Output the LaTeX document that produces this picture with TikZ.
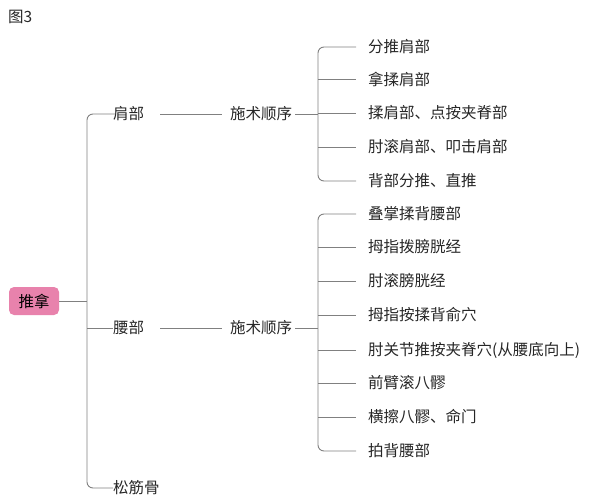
\documentclass[tikz,border=0pt]{standalone}
\usepackage{fontspec}
\setmainfont{Noto Sans CJK SC}
\definecolor{rootpink}{RGB}{232,130,172}
\begin{document}
\begin{tikzpicture}[x=1pt,y=-1pt,
  t/.style={anchor=west,inner sep=0pt,font=\fontsize{15.5}{15.5}\selectfont,text=black!85},
  ln/.style={draw=black!50,line width=0.9pt,rounded corners=6pt}]
\useasboundingbox (0,0) rectangle (600,500);
\node[t] (fig) at (8,17) {图3};
\node[fill=rootpink,rounded corners=5pt,minimum width=50,minimum height=28,inner sep=0pt,font=\fontsize{15.5}{15.5}\selectfont] (root) at (34,301) {推拿};
\node[t] (a) at (113,114) {肩部};
\node[t] (b) at (113,328) {腰部};
\node[t] (c) at (113,488) {松筋骨};
\node[t] (a1) at (230,114) {施术顺序};
\node[t] (b1) at (230,328) {施术顺序};
\draw[ln] (root.east) -- (87,301);
\draw[ln] (a.west) -- ++(-4,0) -| (87,301) |- (c.west);
\draw[ln] (87,328) -- (b.west);
\draw[ln] (160,114) -- (222,114);
\draw[ln] (160,328) -- (222,328);
\foreach \y/\s [count=\i] in {47/分推肩部,79/拿揉肩部,113/揉肩部、点按夹脊部,147/肘滚肩部、叩击肩部,181/背部分推、直推}
  \node[t] (p\i) at (368,\y) {\s};
\foreach \y/\s [count=\i] in {214/叠掌揉背腰部,247/拇指拨膀胱经,281/肘滚膀胱经,315/拇指按揉背俞穴,350/肘关节推按夹脊穴(从腰底向上),383/前臂滚八髎,417/横擦八髎、命门,451/拍背腰部}
  \node[t] (q\i) at (368,\y) {\s};
\draw[ln] (a1.east) ++(3,0) -- (318,114);
\draw[ln] (p1.west) ++(-12,0) -| (318,114) |- ([xshift=-12]p5.west);
\foreach \i in {2,3,4} \draw[ln] (318,0 |- p\i.west) -- ([xshift=-12]p\i.west);
\draw[ln] (b1.east) ++(3,0) -- (318,328);
\draw[ln] (q1.west) ++(-12,0) -| (318,328) |- ([xshift=-12]q8.west);
\foreach \i in {2,...,7} \draw[ln] (318,0 |- q\i.west) -- ([xshift=-12]q\i.west);
\end{tikzpicture}
\end{document}
